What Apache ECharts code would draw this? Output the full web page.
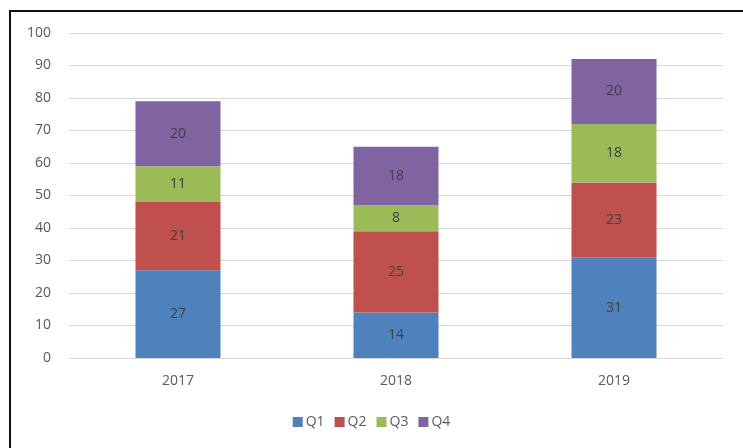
<!DOCTYPE html>
<html>
<head>
<meta charset="utf-8">
<script src="https://cdn.jsdelivr.net/npm/echarts@6/dist/echarts.min.js"></script>
<style>
  html, body { margin: 0; padding: 0; background: #fff; }
  #frame {
    position: absolute; left: 9px; top: 10px; width: 760px; height: 460px;
    border: 2px solid #111; box-sizing: border-box;
  }
  #chart { position: absolute; left: 0; top: 0; width: 743px; height: 448px; }
</style>
</head>
<body>
<div id="frame"></div>
<div id="chart"></div>
<script>
  const years = ['2017', '2018', '2019'];
  const q1 = [27, 14, 31];
  const q2 = [21, 25, 23];
  const q3 = [11, 8, 18];
  const q4 = [20, 18, 20];
  const seriesNames = ['Q1', 'Q2', 'Q3', 'Q4'];
  const colors = ['#4F81BD', '#C0504D', '#9BBB59', '#8064A2'];

  const chart = echarts.init(document.getElementById('chart'));

  const mk = (name, data, color) => ({
    name: name,
    type: 'bar',
    stack: 'total',
    barWidth: '39%',
    data: data,
    itemStyle: { color: color },
    label: {
      show: true,
      color: '#404040',
      fontSize: 14,
      fontFamily: 'Open Sans'
    }
  });

  chart.setOption({
    animation: false,
    grid: { left: 69, right: 20, top: 33, bottom: 90 },
    legend: {
      bottom: 14,
      left: 'center',
      itemWidth: 10,
      itemHeight: 10,
      itemGap: 10,
      icon: 'rect',
      textStyle: { color: '#595959', fontSize: 14, fontFamily: 'Open Sans', padding: [0, 0, 0, -2] },
      data: seriesNames
    },
    xAxis: {
      type: 'category',
      data: years,
      axisLine: { lineStyle: { color: '#d9d9d9' } },
      axisTick: { show: false },
      axisLabel: { color: '#595959', fontSize: 14, fontFamily: 'Open Sans', margin: 16 }
    },
    yAxis: {
      type: 'value',
      min: 0,
      max: 100,
      interval: 10,
      axisLine: { show: false },
      axisTick: { show: false },
      splitLine: { lineStyle: { color: '#d9d9d9' } },
      axisLabel: { color: '#595959', fontSize: 14, fontFamily: 'Open Sans', margin: 18 }
    },
    series: [
      mk(seriesNames[0], q1, colors[0]),
      mk(seriesNames[1], q2, colors[1]),
      mk(seriesNames[2], q3, colors[2]),
      mk(seriesNames[3], q4, colors[3])
    ]
  });
</script>
</body>
</html>
